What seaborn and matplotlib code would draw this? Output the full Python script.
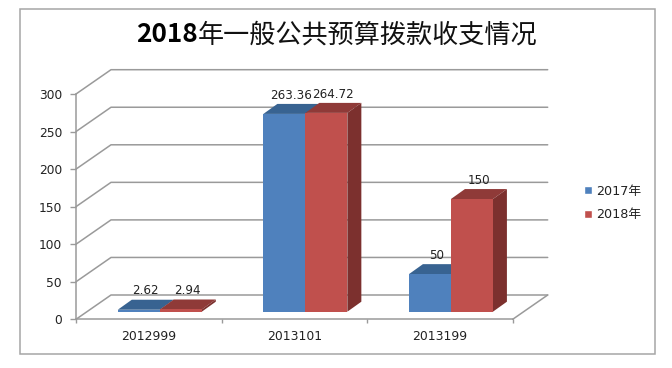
import matplotlib
matplotlib.use('Agg')
import matplotlib.pyplot as plt
import pandas as pd
import seaborn as sns
from matplotlib.patches import Polygon, Rectangle

codes = ['2012999', '2013101', '2013199']
years = ['2017年', '2018年']
values_2017 = [2.62, 263.36, 50]
values_2018 = [2.94, 264.72, 150]
y_ticks = [0, 50, 100, 150, 200, 250, 300]
title_year = '2018'
title_rest = '年一般公共预算拨款收支情况'

W, H = 672, 368
FONT = ['Noto Sans CJK SC', 'DejaVu Sans']
COLORS = {'2017年': '#4f81bd', '2018年': '#c0504d'}
TOPS = {'2017年': '#386391', '2018年': '#8f3a38'}
SIDES = {'2017年': '#2f5580', '2018年': '#7c302e'}
GRID = '#9a9a9a'


def box(left, right, top, bottom):
    # pixel box (from top left of the picture) to figure fractions
    return [left / W, 1 - bottom / H, (right - left) / W, (bottom - top) / H]


def main():
    sns.set_style('white')
    plt.rcParams['font.family'] = FONT

    df = pd.DataFrame({'code': codes * 2,
                       'year': [years[0]] * 3 + [years[1]] * 3,
                       'value': values_2017 + values_2018})

    fig = plt.figure(figsize=(W / 100, H / 100), dpi=100)
    fig.add_artist(Rectangle((19.5 / W, 1 - 354 / H), 635.5 / W, 345.5 / H, transform=fig.transFigure,
                             facecolor='white', edgecolor='#a6a6a6', linewidth=1.1, zorder=-1))
    fig.text(136 / W, 1 - 35 / H, title_year, ha='left', va='center', fontsize=18.8, fontweight='bold', color='black')
    fig.text(537 / W, 1 - 35 / H, title_rest, ha='right', va='center', fontsize=18.8, color='#111111')

    # front plane: holds the axis lines, ticks and labels
    front = fig.add_axes(box(76, 512.7, 94, 319.3))
    front.set_xlim(-0.5, 2.5)
    front.set_ylim(0, 300)
    front.patch.set_alpha(0)
    for s in ['top', 'right']:
        front.spines[s].set_visible(False)
    for s in ['left', 'bottom']:
        front.spines[s].set_color(GRID)
        front.spines[s].set_linewidth(1.1)
    front.set_yticks(y_ticks)
    front.set_xticks([0, 1, 2])
    front.set_xticklabels(codes)
    front.set_xticks([-0.5, 0.5, 1.5, 2.5], minor=True)
    front.tick_params(axis='y', length=4, width=1, color=GRID, labelsize=8.8, labelcolor='#222222', pad=6, left=True)
    front.tick_params(axis='x', which='major', length=0, labelsize=8.9, labelcolor='#222222', pad=8)
    front.tick_params(axis='x', which='minor', length=3, width=1, color=GRID, bottom=True)
    for lab in front.get_yticklabels() + front.get_xticklabels():
        lab.set_fontfamily('DejaVu Sans')

    # wall depth, in data units of the front plane
    wall_dx = 35 / (436.7 / 3)
    wall_dy = 24.3 / (225.3 / 300)
    for t in y_ticks:
        front.plot([-0.5, -0.5 + wall_dx, 2.5 + wall_dx], [t, t + wall_dy, t + wall_dy],
                   color=GRID, lw=1.1, clip_on=False, zorder=1)
    front.plot([2.5, 2.5 + wall_dx], [0, wall_dy], color=GRID, lw=1.1, clip_on=False, zorder=1)

    # bar plane, a little behind the front one
    ax = fig.add_axes(box(87, 523.7, 86.4, 311.7))
    ax.patch.set_alpha(0)
    sns.barplot(data=df, x='code', y='value', hue='year', order=codes, hue_order=years,
                palette=COLORS, width=0.577, gap=0, saturation=1, legend=False, ax=ax, zorder=3,
                edgecolor='none', linewidth=0)
    ax.set_xlim(-0.5, 2.5)
    ax.set_ylim(0, 300)
    ax.axis('off')

    dx = 14 / (436.7 / 3)
    dy = 10 / (225.3 / 300)
    for container, year, vals in zip(ax.containers, years, [values_2017, values_2018]):
        for bar, val in zip(container, vals):
            x0, x1 = bar.get_x(), bar.get_x() + bar.get_width()
            y1 = bar.get_height()
            ax.add_patch(Polygon([(x0, y1), (x1, y1), (x1 + dx, y1 + dy), (x0 + dx, y1 + dy)],
                                 facecolor=TOPS[year], edgecolor='none', clip_on=False, zorder=2))
            if year == years[1]:
                ax.add_patch(Polygon([(x1, 0), (x1 + dx, dy), (x1 + dx, y1 + dy), (x1, y1)],
                                     facecolor=SIDES[year], edgecolor='none', clip_on=False, zorder=2))
            ax.text((x0 + x1) / 2 + dx * 0.5, y1 + dy + 3, f'{val:g}', ha='center', va='bottom', fontsize=8.6,
                    color='#222222', family='DejaVu Sans', zorder=5)

    # legend
    legend_ax = fig.add_axes([0, 0, 1, 1])
    legend_ax.axis('off')
    handles = [Rectangle((0, 0), 1, 1, facecolor=COLORS[y]) for y in years]
    legend_ax.legend(handles, years, loc='center left', bbox_to_anchor=(584 / W, 1 - 203 / H), frameon=False,
                     prop={'family': ['DejaVu Sans', 'Noto Sans CJK SC'], 'size': 9.2},
                     handlelength=0.63, handleheight=0.63, handletextpad=0.35, labelspacing=0.85,
                     labelcolor='#222222', borderpad=0, borderaxespad=0)

    fig.savefig('out.png', dpi=100)
    plt.close()


if __name__ == '__main__':
    main()
